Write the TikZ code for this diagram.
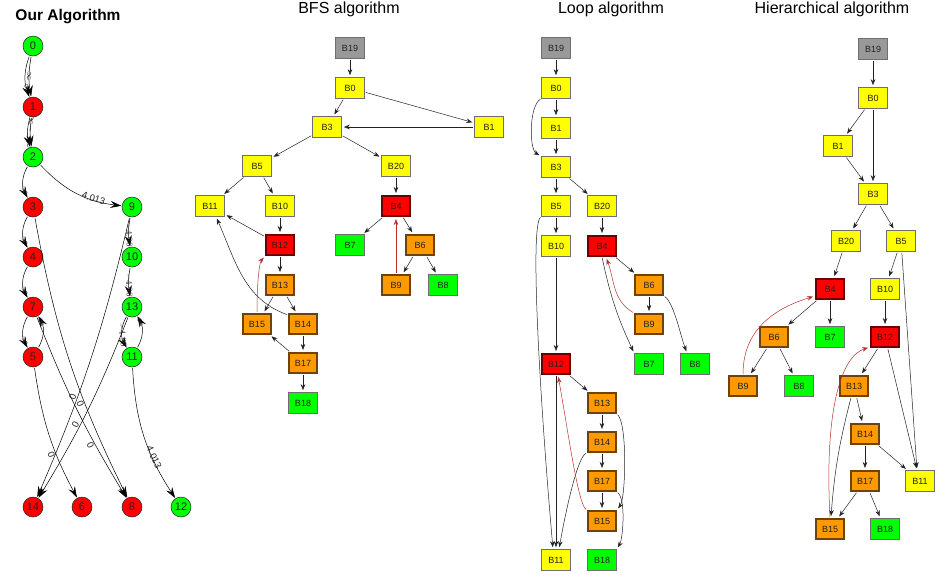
\documentclass[tikz,border=0pt]{standalone}
\usepackage{fontspec}
\setmainfont{Liberation Sans}
\usepackage{xcolor}
\usepackage{tikz}
\usetikzlibrary{arrows.meta,automata}
\definecolor{GREEN}{HTML}{00FF00}
\definecolor{RED}{HTML}{FF0000}
\definecolor{YELLOW}{HTML}{FFFF00}
\definecolor{ORANGE}{HTML}{FF9900}
\definecolor{GREY}{HTML}{999999}
\definecolor{DARKRED}{HTML}{6A0000}
\definecolor{BROWN}{HTML}{6E4208}
\definecolor{BORDER}{HTML}{6E6E6E}
\definecolor{BACK}{HTML}{B83030}
\definecolor{INK}{HTML}{222222}

\begin{document}
\begin{tikzpicture}[x=1pt,y=1pt,>={Stealth[length=6pt,width=4.5pt]},shorten >=2pt,shorten <=1pt]
	\tikzstyle{every state}=[minimum size=20pt,inner sep=0pt,draw=INK,line width=0.5pt,text=INK,font=\fontsize{11}{11}\selectfont]
	\tikzstyle{blk}=[draw=BORDER,line width=0.6pt,minimum width=29pt,minimum height=21pt,inner sep=0pt,text=INK,font=\fontsize{9}{9}\selectfont]
	\tikzstyle{gry}=[blk,fill=GREY]
	\tikzstyle{ylw}=[blk,fill=YELLOW]
	\tikzstyle{grn}=[blk,fill=GREEN]
	\tikzstyle{rd}=[blk,fill=RED,draw=DARKRED,line width=2pt,minimum width=28pt,minimum height=20pt]
	\tikzstyle{org}=[blk,fill=ORANGE,draw=BROWN,line width=2pt,minimum width=28pt,minimum height=20pt]
	\tikzstyle{ttl}=[font=\fontsize{16}{16}\selectfont,anchor=base]
	\tikzstyle{edg}=[->,INK,line width=0.5pt]
	\tikzstyle{bck}=[BACK]
	\tikzstyle{arc}=[-{Stealth[length=11pt,width=7pt,inset=4pt]},black,line width=0.5pt,shorten >=0.5pt]
	\tikzstyle{lbl}=[sloped,font=\fontsize{9.5}{9.5}\selectfont,text=INK,inner sep=1pt]
	
	\useasboundingbox (0,0) rectangle (939,-574);
	
	% titles
	\node[ttl,font=\bfseries\fontsize{15.5}{16}\selectfont] (tOur) at (68,-20.5) {Our Algorithm};
	\node[ttl] (tBFS)  at (349,-13.5) {BFS algorithm};
	\node[ttl] (tLoop) at (611,-13.5) {Loop algorithm};
	\node[ttl] (tHier) at (832,-13.5) {Hierarchical algorithm};
	
	% our algorithm
	\node[state,fill=GREEN] (s0)  at (33,-46)   {0};
	\node[state,fill=RED]   (s1)  at (33,-107)  {1};
	\node[state,fill=GREEN] (s2)  at (33,-157)  {2};
	\node[state,fill=RED]   (s3)  at (33,-207)  {3};
	\node[state,fill=RED]   (s4)  at (33,-257)  {4};
	\node[state,fill=RED]   (s7)  at (33,-307)  {7};
	\node[state,fill=RED]   (s5)  at (33,-357)  {5};
	\node[state,fill=GREEN] (s9)  at (132,-207) {9};
	\node[state,fill=GREEN] (s10) at (132,-257) {10};
	\node[state,fill=GREEN] (s13) at (132,-307) {13};
	\node[state,fill=GREEN] (s11) at (132,-357) {11};
	\node[state,fill=RED]   (s14) at (33,-507)  {14};
	\node[state,fill=RED]   (s6)  at (82,-507)  {6};
	\node[state,fill=RED]   (s8)  at (132,-507) {8};
	\node[state,fill=GREEN] (s12) at (181,-507) {12};
	
	\path[arc]
	(s0)  edge [bend right=10] node [lbl,pos=0.5] {$\infty$} (s1)
	      edge [bend right=20] node [lbl,pos=0.8] {$\infty$} (s1)
	(s1)  edge [bend right=8]  node [lbl,pos=0.22] {$-\infty$} (s2)
	      edge [bend right=16] node [lbl,pos=0.78] {$-\infty$} (s2)
	(s2)  edge [bend right=30] node [lbl,pos=0.8] {$\infty$} (s3)
	      edge [bend right=20] node [lbl,pos=0.7,above=-3pt] {4.013} (s9)
	(s3)  edge [bend right=30] node [lbl,pos=0.8] {$\infty$} (s4)
	      edge [bend right=8]  node [lbl,pos=0.66,below] {0} (s8)
	(s4)  edge [bend right=30] node [lbl,pos=0.8] {$\infty$} (s7)
	(s7)  edge [bend right=30] node [lbl,pos=0.8] {$\infty$} (s5)
	      edge [bend right=5]  node [lbl,pos=0.7,below] {0} (s8)
	(s5)  edge [bend right=30] node [lbl,pos=0.8] {$\infty$} (s7)
	      edge [bend right=10] node [lbl,pos=0.65,below] {0} (s6)
	(s9)  edge [bend right=10] node [lbl,pos=0.6] {$-4.96$} (s10)
	      edge [bend left=5]   node [lbl,pos=0.65,above] {0} (s14)
	(s10) edge [bend right=10] node [lbl,pos=0.6] {$-4.96$} (s13)
	(s13) edge [bend right=30] node [lbl,pos=0.6] {$-4.96$} (s11)
	      edge [bend left=5]   node [lbl,pos=0.6,above] {0} (s14)
	(s11) edge [bend right=30] node [lbl,pos=0.8] {$\infty$} (s13)
	      edge [bend right=15] node [lbl,pos=0.68,above=-3pt] {4.013} (s12);
	
	% BFS algorithm
	\node[gry] (b19) at (350,-48)  {B19};
	\node[ylw] (b0)  at (350,-88)  {B0};
	\node[ylw] (b3)  at (327,-127) {B3};
	\node[ylw] (b1)  at (489,-127) {B1};
	\node[ylw] (b5)  at (257,-166) {B5};
	\node[ylw] (b20) at (396,-166) {B20};
	\node[ylw] (b11) at (210,-206) {B11};
	\node[ylw] (b10) at (280,-206) {B10};
	\node[rd]  (b4)  at (396,-206) {B4};
	\node[rd]  (b12) at (280,-245) {B12};
	\node[grn] (b7)  at (350,-245) {B7};
	\node[org] (b6)  at (420,-245) {B6};
	\node[org] (b13) at (280,-285) {B13};
	\node[org] (b9)  at (396,-285) {B9};
	\node[grn] (b8)  at (443,-285) {B8};
	\node[org] (b15) at (257,-324) {B15};
	\node[org] (b14) at (303,-324) {B14};
	\node[org] (b17) at (303,-363) {B17};
	\node[grn] (b18) at (303,-403) {B18};
	
	\path[edg]
	(b19) edge (b0)
	(b0)  edge (b3)
	      edge (b1)
	(b1)  edge (b3)
	(b3)  edge (b5)
	      edge (b20)
	(b5)  edge (b11)
	      edge (b10)
	(b10) edge (b12)
	(b12) edge (b11)
	      edge (b13)
	(b13) edge (b15)
	      edge (b14)
	(b14) edge (b17)
	([yshift=-2pt]b14.north west) edge [out=160,in=-66] ([xshift=6pt]b11.south)
	(b17) edge (b15)
	      edge (b18)
	(b20) edge (b4)
	(b4)  edge (b7)
	      edge (b6)
	(b6)  edge (b9)
	      edge (b8)
	(b15.north) edge [bck,out=90,in=-130,out distance=35pt,in distance=8pt] (b12.south west)
	(b9)  edge [bck] (b4);
	
	% loop algorithm
	\node[gry] (l19) at (556,-48)  {B19};
	\node[ylw] (l0)  at (556,-88)  {B0};
	\node[ylw] (l1)  at (556,-128) {B1};
	\node[ylw] (l3)  at (556,-167) {B3};
	\node[ylw] (l5)  at (556,-206) {B5};
	\node[ylw] (l20) at (602,-206) {B20};
	\node[ylw] (l10) at (556,-246) {B10};
	\node[rd]  (l4)  at (602,-246) {B4};
	\node[org] (l6)  at (649,-285) {B6};
	\node[org] (l9)  at (649,-324) {B9};
	\node[rd]  (l12) at (556,-364) {B12};
	\node[grn] (l7)  at (649,-364) {B7};
	\node[grn] (l8)  at (695,-364) {B8};
	\node[org] (l13) at (602,-403) {B13};
	\node[org] (l14) at (602,-442) {B14};
	\node[org] (l17) at (602,-481) {B17};
	\node[org] (l15) at (602,-521) {B15};
	\node[ylw] (l11) at (556,-560) {B11};
	\node[grn] (l18) at (602,-560) {B18};
	
	\path[edg]
	(l19) edge (l0)
	(l0)  edge (l1)
	(l0.south west) edge [out=210,in=150,out distance=14pt,in distance=14pt] (l3.north west)
	(l1)  edge (l3)
	(l3)  edge (l5)
	      edge (l20)
	(l5)  edge (l10)
	(l5.south west) edge [out=220,in=95,out distance=15pt,in distance=150pt] ([xshift=-3pt]l11.north)
	(l10) edge (l12)
	(l12) edge (l11)
	      edge (l13)
	(l20) edge (l4)
	(l4)  edge (l6)
	(l4.south) edge [out=-78,in=115] (l7.north west)
	(l6)  edge (l9)
	(l6.south east) edge [out=-35,in=110,out distance=12pt,in distance=20pt] ([xshift=-8pt]l8.north)
	(l13) edge (l14)
	(l13.south east) edge [out=-45,in=55,out distance=15pt,in distance=15pt] (l15.north east)
	(l14) edge (l17)
	(l14.south west) edge [out=200,in=80,out distance=10pt,in distance=40pt] ([xshift=3pt]l11.north)
	(l17) edge (l15)
	(l17.south east) edge [out=-40,in=60,out distance=12pt,in distance=12pt] (l18.north east)
	(l9.north west) edge [bck,out=150,in=-70] ([xshift=4pt]l4.south)
	(l15.north west) edge [bck,out=150,in=-80,out distance=10pt,in distance=60pt] ([xshift=2pt]l12.south);
	
	% hierarchical algorithm
	\node[gry] (h19) at (873,-49)  {B19};
	\node[ylw] (h0)  at (873,-98)  {B0};
	\node[ylw] (h1)  at (838,-146) {B1};
	\node[ylw] (h3)  at (873,-194) {B3};
	\node[ylw] (h20) at (846,-241) {B20};
	\node[ylw] (h5)  at (901,-241) {B5};
	\node[rd]  (h4)  at (830,-289) {B4};
	\node[ylw] (h10) at (885,-289) {B10};
	\node[org] (h6)  at (774,-337) {B6};
	\node[grn] (h7)  at (830,-337) {B7};
	\node[rd]  (h12) at (885,-337) {B12};
	\node[org] (h9)  at (743,-386) {B9};
	\node[grn] (h8)  at (799,-386) {B8};
	\node[org] (h13) at (854,-386) {B13};
	\node[org] (h14) at (865,-434) {B14};
	\node[org] (h17) at (865,-481) {B17};
	\node[ylw] (h11) at (920,-481) {B11};
	\node[org] (h15) at (830,-529) {B15};
	\node[grn] (h18) at (885,-529) {B18};
	
	\path[edg]
	(h19) edge (h0)
	(h0)  edge (h1)
	      edge (h3)
	(h1)  edge (h3)
	(h3)  edge (h20)
	      edge (h5)
	(h20) edge (h4)
	(h5)  edge (h10)
	      edge ([xshift=-3pt]h11.north)
	(h10) edge (h12)
	(h4)  edge (h6)
	      edge (h7)
	(h6)  edge (h9)
	      edge (h8)
	(h12) edge (h13)
	      edge ([xshift=-3pt]h11.north)
	(h13) edge (h14)
	      edge [bend right=5] (h15)
	(h14) edge (h17)
	      edge (h11)
	(h17) edge (h15)
	      edge (h18)
	(h9.north) edge [bck,out=90,in=197,out distance=50pt,in distance=35pt] ([yshift=4pt]h4.south west)
	(h15.north) edge [bck,out=93,in=198,out distance=110pt,in distance=30pt] ([yshift=1pt]h12.south west);
\end{tikzpicture}
\end{document}
